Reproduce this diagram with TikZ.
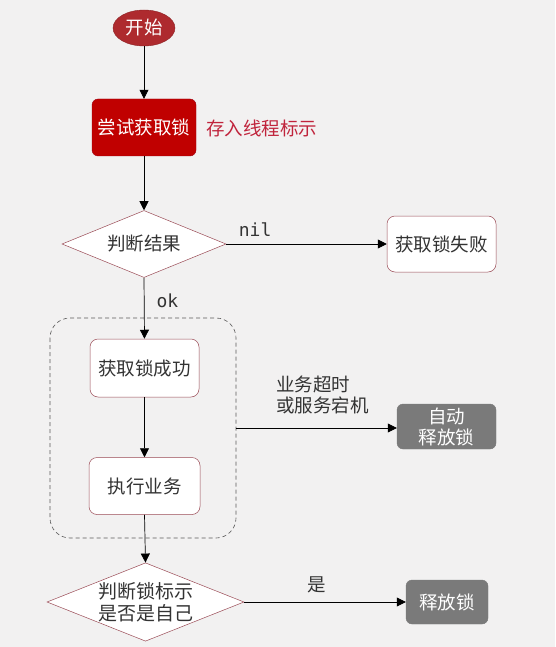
\documentclass[tikz,border=0pt]{standalone}
\usepackage{fontspec}
\setmainfont{Noto Sans CJK SC}
\setmonofont{DejaVu Sans Mono}
\usetikzlibrary{shapes.geometric,arrows.meta}
\definecolor{bg}{HTML}{F2F1F1}
\definecolor{startred}{HTML}{AE2A2E}
\definecolor{tryred}{HTML}{C00000}
\definecolor{tryborder}{HTML}{A00010}
\definecolor{labelred}{HTML}{C0243C}
\definecolor{edgered}{HTML}{9A4A55}
\definecolor{txt}{HTML}{333333}
\definecolor{graybox}{HTML}{7A7A7A}
\tikzset{
  base/.style={font=\fontsize{18.5}{21}\selectfont, inner sep=0pt, text=txt},
  startnode/.style={base, ellipse, fill=startred, draw=startred!80!black, text=white, minimum width=62pt, minimum height=36pt},
  trybox/.style={base, rectangle, rounded corners=6pt, fill=tryred, draw=tryborder, text=white, minimum width=104pt, minimum height=57pt},
  whitebox/.style={base, rectangle, rounded corners=8pt, fill=white, draw=edgered, line width=0.5pt},
  graynode/.style={base, rectangle, rounded corners=6pt, fill=graybox, draw=graybox, text=white, align=center},
  decision/.style={base, diamond, aspect=2.45, fill=white, draw=edgered, line width=0.5pt, align=center},
  conn/.style={draw=black, line width=0.7pt, -{Triangle[length=9pt,width=9pt]}},
  lbl/.style={base, align=left},
  monolbl/.style={font=\ttfamily\fontsize{18}{20}\selectfont, text=txt, inner sep=0pt},
  group/.style={draw=black!65, dashed, dash pattern=on 4pt off 3pt, rounded corners=20pt, line width=0.6pt}
}
\begin{document}
\begin{tikzpicture}[x=1pt,y=-1pt]
\fill[bg] (0,0) rectangle (555,647);
\useasboundingbox (0,0) rectangle (555,647);

\node[startnode] (start) at (144,28) {开始};
\node[trybox] (try) at (144,127.5) {尝试获取锁};
\node[base, text=labelred, anchor=west] (store) at (206,128) {存入线程标示};

\node[decision, minimum width=164pt, minimum height=67pt] (judge) at (144,244) {判断结果};
\node[whitebox, minimum width=109pt, minimum height=56pt] (fail) at (441.5,244) {获取锁失败};

\node[whitebox, minimum width=109pt, minimum height=58pt] (succ) at (144.5,368) {获取锁成功};
\node[whitebox, minimum width=111pt, minimum height=57pt] (exec) at (144.5,486) {执行业务};
\draw[group] (50,318) rectangle (236,538);
\coordinate (grpR) at (236,428);

\node[graynode, minimum width=99pt, minimum height=45pt] (auto) at (446.5,426.5) {自动\\释放锁};

\node[decision, minimum width=197pt, minimum height=68pt, font=\fontsize{19}{22}\selectfont] (judge2) at (145.5,602) {判断锁标示\\是否是自己};
\node[graynode, minimum width=82pt, minimum height=44pt] (release) at (447,602) {释放锁};

\draw[conn] (start) -- (try);
\draw[conn] (try) -- (judge);
\draw[conn] (judge.east) -- (fail.west) node[monolbl, pos=0.18, above=7pt] {nil};
\draw[conn] (judge.south) -- (succ.north) node[monolbl, pos=0.37, right=12pt] {ok};
\draw[conn] (succ) -- (exec);
\draw[conn] (exec.south) -- (judge2.north);
\draw[conn] (grpR) -- (auto.west |- grpR);
\node[lbl, anchor=north west] (reason) at (276,376) {业务超时\\或服务宕机};
\draw[conn] (judge2.east) -- (release.west) node[base, pos=0.45, above=9pt] {是};
\end{tikzpicture}
\end{document}
